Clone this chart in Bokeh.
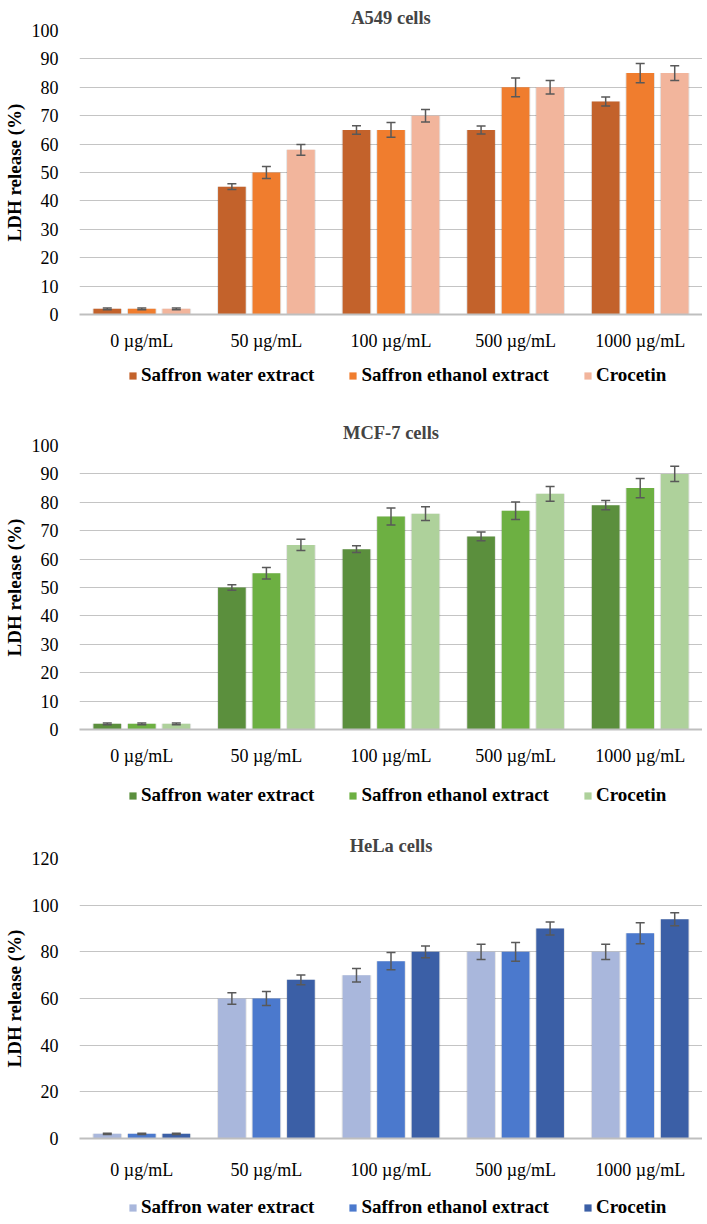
from bokeh.plotting import figure
from bokeh.models import ColumnDataSource, FactorRange, Legend, LegendItem, Range1d, FixedTicker
from bokeh.transform import dodge
from bokeh.layouts import column
from bokeh.embed import file_html
from bokeh.resources import INLINE

doses = ["0 µg/mL", "50 µg/mL", "100 µg/mL", "500 µg/mL", "1000 µg/mL"]
series = ["Saffron water extract", "Saffron ethanol extract", "Crocetin"]

# A549 cells
a549_water = [2, 45, 65, 65, 75]
a549_ethanol = [2, 50, 65, 80, 85]
a549_crocetin = [2, 58, 70, 80, 85]
a549_water_err = [0.3, 1.0, 1.5, 1.4, 1.6]
a549_ethanol_err = [0.3, 2.1, 2.6, 3.3, 3.4]
a549_crocetin_err = [0.3, 1.9, 2.2, 2.4, 2.6]
a549_ticks = [0, 10, 20, 30, 40, 50, 60, 70, 80, 90, 100]

# MCF-7 cells
mcf7_water = [2, 50, 63.5, 68, 79]
mcf7_ethanol = [2, 55, 75, 77, 85]
mcf7_crocetin = [2, 65, 76, 83, 90]
mcf7_water_err = [0.3, 1.0, 1.2, 1.5, 1.6]
mcf7_ethanol_err = [0.3, 2.0, 3.0, 3.1, 3.4]
mcf7_crocetin_err = [0.3, 2.0, 2.4, 2.6, 2.7]
mcf7_ticks = [0, 10, 20, 30, 40, 50, 60, 70, 80, 90, 100]

# HeLa cells
hela_water = [2, 60, 70, 80, 80]
hela_ethanol = [2, 60, 76, 80, 88]
hela_crocetin = [2, 68, 80, 90, 94]
hela_water_err = [0.3, 2.5, 2.9, 3.3, 3.3]
hela_ethanol_err = [0.3, 3.0, 3.7, 4.0, 4.5]
hela_crocetin_err = [0.3, 2.1, 2.5, 2.8, 2.8]
hela_ticks = [0, 20, 40, 60, 80, 100, 120]

FONT = "Liberation Serif"
OFFSETS = [-0.277, 0.0, 0.277]
BAR_W = 0.222


def make_source(vals, errs):
    data = {"dose": doses}
    for i in range(3):
        v = vals[i]
        e = errs[i]
        data[f"v{i}"] = v
        data[f"hi{i}"] = [a + b for a, b in zip(v, e)]
        data[f"lo{i}"] = [a - b for a, b in zip(v, e)]
    return ColumnDataSource(data)


def make_panel(title, src, colors, ymax, ticks, frame_h, top, bottom,
               axis_standoff):
    p = figure(x_range=FactorRange(factors=doses, range_padding=0),
               y_range=Range1d(0, ymax), frame_width=623, frame_height=frame_h,
               output_backend="svg", toolbar_location=None,
               min_border_left=68, min_border_right=0,
               min_border_top=top, min_border_bottom=bottom)
    p.title.text = title
    p.title.align = "center"
    p.title.text_font = FONT
    p.title.text_font_size = "18.5px"
    p.title.text_font_style = "bold"
    p.title.standoff = 6
    p.outline_line_color = None
    p.background_fill_color = "white"

    for i in range(3):
        x = dodge("dose", OFFSETS[i], range=p.x_range)
        p.vbar(x=x, top=f"v{i}", width=BAR_W + 0.016, source=src,
               fill_color="#000000", fill_alpha=0.10, line_color=None)
    for i in range(3):
        x = dodge("dose", OFFSETS[i], range=p.x_range)
        p.vbar(x=x, top=f"v{i}", width=BAR_W, source=src,
               fill_color=colors[i], line_color=None)
    for i in range(3):
        x = dodge("dose", OFFSETS[i], range=p.x_range)
        p.segment(x0=x, x1=x, y0=f"lo{i}", y1=f"hi{i}", source=src,
                  line_color="#595959", line_width=1.5)
        p.scatter(x=x, y=f"hi{i}", source=src, marker="dash", size=9,
                  line_color="#595959", line_width=1.5)
        p.scatter(x=x, y=f"lo{i}", source=src, marker="dash", size=9,
                  line_color="#595959", line_width=1.5)

    p.xgrid.grid_line_color = None
    p.ygrid.grid_line_color = "#C4C4C4"
    p.ygrid.grid_line_width = 1
    p.yaxis.ticker = FixedTicker(ticks=ticks)
    p.yaxis.axis_line_color = None
    p.yaxis.major_tick_line_color = None
    p.yaxis.minor_tick_line_color = None
    p.yaxis.major_label_standoff = 15
    p.yaxis.major_label_text_font = FONT
    p.yaxis.major_label_text_font_size = "18px"
    p.yaxis.major_label_text_color = "black"
    p.yaxis.axis_label = "LDH release (%)"
    p.yaxis.axis_label_text_font = FONT
    p.yaxis.axis_label_text_font_size = "19px"
    p.yaxis.axis_label_text_font_style = "bold"
    p.yaxis.axis_label_text_color = "black"
    p.yaxis.axis_label_standoff = 4

    p.xaxis.axis_line_color = "#BFBFBF"
    p.xaxis.axis_line_width = 2
    p.xaxis.major_tick_line_color = None
    p.xaxis.minor_tick_line_color = None
    p.xaxis.major_label_standoff = axis_standoff
    p.xaxis.major_label_text_font = FONT
    p.xaxis.major_label_text_font_size = "18px"
    p.xaxis.major_label_text_color = "black"
    return p


def make_legend(src, colors, height, leg_y):
    # legend strip: series renderers are hidden, only the legend swatches
    # and labels are drawn
    q = figure(width=691, height=height,
               x_range=FactorRange(factors=doses, range_padding=0),
               y_range=Range1d(-2, -1), x_axis_location=None,
               y_axis_location=None, output_backend="svg",
               toolbar_location=None, min_border_left=68, min_border_right=0,
               min_border_top=0, min_border_bottom=0)
    q.outline_line_color = None
    q.xgrid.grid_line_color = None
    q.ygrid.grid_line_color = None
    items = []
    for i in range(3):
        r = q.vbar(x=dodge("dose", OFFSETS[i], range=q.x_range),
                   top=f"v{i}", width=BAR_W, source=src,
                   fill_color=colors[i], line_color=None)
        r.visible = False
        items.append(LegendItem(label=series[i], renderers=[r]))
    leg = Legend(items=items, orientation="horizontal", location=(49, leg_y),
                 glyph_width=9, glyph_height=9, label_standoff=4, spacing=34,
                 label_text_font=FONT, label_text_font_size="19px",
                 label_text_font_style="bold", label_text_color="black",
                 border_line_color=None,
                 background_fill_alpha=0, margin=0, padding=2)
    q.add_layout(leg, "center")
    return q


c1 = ["#C3622B", "#F07D2E", "#F2B59C"]
c2 = ["#5B8F3D", "#6DB042", "#AED19B"]
c3 = ["#A9B7DC", "#4B79CD", "#3B5FA6"]

s1 = make_source([a549_water, a549_ethanol, a549_crocetin],
                 [a549_water_err, a549_ethanol_err, a549_crocetin_err])
s2 = make_source([mcf7_water, mcf7_ethanol, mcf7_crocetin],
                 [mcf7_water_err, mcf7_ethanol_err, mcf7_crocetin_err])
s3 = make_source([hela_water, hela_ethanol, hela_crocetin],
                 [hela_water_err, hela_ethanol_err, hela_crocetin_err])

p1 = make_panel("A549 cells", s1, c1, 100, a549_ticks, 284, 30, 36, 10)
l1 = make_legend(s1, c1, 50, 17)
p2 = make_panel("MCF-7 cells", s2, c2, 100, mcf7_ticks, 284, 42, 36, 10)
l2 = make_legend(s2, c2, 42, 4)
p3 = make_panel("HeLa cells", s3, c3, 120, hela_ticks, 280, 48, 40, 15)
l3 = make_legend(s3, c3, 36, 0)

layout = column(p1, l1, p2, l2, p3, l3, spacing=0)
open("out.html", "w").write(file_html(layout, INLINE))
